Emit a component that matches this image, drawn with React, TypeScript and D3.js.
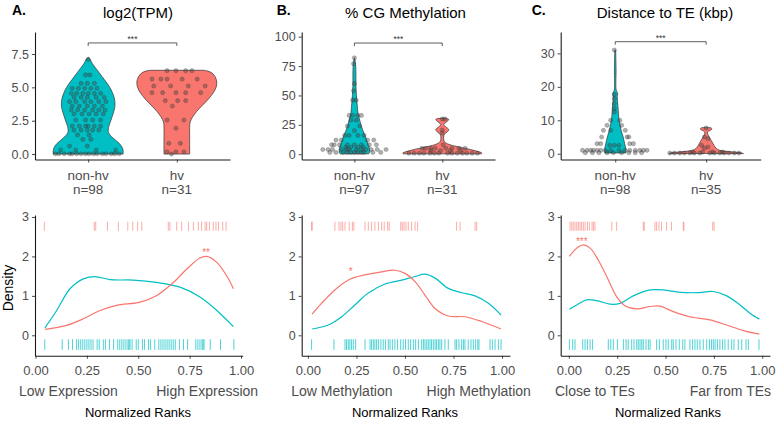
import React, { useRef, useEffect } from "react";
import * as d3 from "d3";

// groups + labels
const groups = ["non-hv", "hv"];
const panelLetters = ["A.", "B.", "C."];
const panelTitles = ["log2(TPM)", "% CG Methylation", "Distance to TE (kbp)"];
const groupCounts = [[98, 31], [97, 31], [98, 35]];
const tpmTicks = [0, 2.5, 5, 7.5];
const methTicks = [0, 25, 50, 75, 100];
const teTicks = [0, 10, 20, 30];
const rankTicks = [0, 0.25, 0.5, 0.75, 1];
const densityTicks = [0, 1, 2, 3];
const rankEndLabels = [
  ["Low Expression", "High Expression"],
  ["Low Methylation", "High Methylation"],
  ["Close to TEs", "Far from TEs"],
];
const rankEndAt = [[0.16, 0.835], [0.175, 0.88], [0.135, 0.835]];
const violinStars = ["***", "***", "***"];
const densityStars = ["**", "*", "***"];
const densityStarAt = [[0.83, 2.16], [0.22, 1.67], [0.067, 2.44]];

// violin outlines: [value, half width in category units]
const tpmNonHvViolin = [[7.25, 0], [7.1, 0.022], [6.8, 0.045], [6.4, 0.09], [6.0, 0.135], [5.6, 0.18], [5.2, 0.225], [4.8, 0.26], [4.4, 0.285], [4.0, 0.3], [3.5, 0.3], [3.0, 0.28], [2.5, 0.255], [2.0, 0.23], [1.6, 0.23], [1.2, 0.28], [0.8, 0.35], [0.4, 0.39], [0.1, 0.395], [0.0, 0.395]];
const tpmHvViolin = [[6.28, 0.3], [6.2, 0.36], [6.0, 0.41], [5.6, 0.445], [5.2, 0.45], [4.8, 0.43], [4.4, 0.39], [4.0, 0.34], [3.6, 0.28], [3.2, 0.225], [2.8, 0.18], [2.4, 0.15], [2.0, 0.145], [1.0, 0.145], [0.0, 0.145]];
const methNonHvViolin = [[82, 0], [78, 0.011], [70, 0.017], [60, 0.017], [50, 0.023], [45, 0.028], [40, 0.034], [35, 0.04], [30, 0.057], [25, 0.074], [20, 0.097], [15, 0.125], [10, 0.148], [5, 0.17], [1, 0.17], [0.3, 0.16]];
const methHvViolin = [[30.5, 0.045], [29.5, 0.074], [28, 0.057], [26, 0.023], [25, 0.017], [23, 0.045], [21, 0.074], [19, 0.057], [17, 0.023], [15.5, 0.017], [12, 0.017], [10, 0.034], [8, 0.09], [6, 0.2], [4, 0.32], [2, 0.42], [1, 0.45], [0.3, 0.445]];
const teNonHvViolin = [[31, 0.005], [25, 0.009], [19, 0.011], [18, 0.027], [17, 0.022], [15, 0.027], [13, 0.033], [11, 0.038], [9, 0.049], [7, 0.065], [5, 0.087], [3, 0.104], [1.5, 0.115], [0.2, 0.115]];
const teHvViolin = [[7.8, 0.049], [7.4, 0.065], [7.0, 0.044], [6.5, 0.016], [6.0, 0.016], [5.0, 0.033], [4.0, 0.055], [3.0, 0.076], [2.0, 0.098], [1.2, 0.13], [0.8, 0.2], [0.5, 0.3], [0.25, 0.39], [0.05, 0.41]];

// jittered points: [value, [offsets in category units]]
const tpmNonHvPoints = [
  [7.1, [0.0]], [5.93, [-0.03, 0.02]], [5.3, [-0.08, -0.01, 0.07]],
  [4.93, [-0.18, -0.11, -0.04, 0.03, 0.1]], [4.55, [-0.19, -0.13, -0.06, 0.0, 0.07, 0.14]],
  [4.25, [-0.16, -0.08, -0.01, 0.09, 0.18]], [3.93, [-0.21, -0.14, -0.04, 0.03, 0.12, 0.2]],
  [3.6, [-0.18, -0.1, -0.01, 0.07, 0.16]], [3.3, [-0.19, -0.12, -0.04, 0.05, 0.12, 0.19]],
  [3.0, [-0.16, -0.07, 0.01, 0.09, 0.17]], [2.55, [-0.14, -0.03, 0.05, 0.14]],
  [2.1, [-0.18, -0.1, -0.03, 0.0, 0.07, 0.14]], [1.8, [-0.16, -0.08, -0.01, 0.05, 0.12]],
  [1.43, [-0.12, 0.01]], [1.1, [-0.06, 0.03]], [0.6, [-0.21, -0.01]], [0.3, [-0.31, -0.14, 0.09, 0.31]],
  [0.02, [-0.37, -0.33, -0.27, -0.21, -0.18, -0.13, -0.08, -0.03, 0.01, 0.06, 0.1, 0.16, 0.2, 0.26, 0.3, 0.35]],
];
const tpmHvPoints = [
  [6.25, [-0.11, -0.01, 0.1, 0.17]], [5.62, [-0.28, -0.18, -0.11, 0.06, 0.23]], [5.1, [-0.26, -0.07, 0.13, 0.32]],
  [4.6, [-0.28, -0.16, -0.01, 0.1, 0.27]], [4.0, [-0.13, 0.01, 0.1]], [3.6, [-0.05]], [2.55, [-0.11, 0.08]],
  [1.93, [-0.01]], [0.8, [-0.09, 0.04]], [0.17, [-0.11, -0.01, 0.08]], [0.0, [-0.06]],
];
const methNonHvPoints = [
  [82, [0.0]], [77, [-0.01]], [60, [0.0]], [54, [-0.01]], [46, [-0.02, 0.02]],
  [33, [-0.06, -0.02, 0.04, 0.08]], [29, [-0.04, 0.02]], [24, [-0.08, 0.06]], [20, [0.0]],
  [16, [-0.11, -0.06, 0.04, 0.11]], [12, [-0.21, -0.15, 0.15, 0.22]],
  [8, [-0.26, -0.23, -0.17, -0.08, 0.0, 0.08, 0.17, 0.25]], [6, [-0.1, -0.04, 0.04, 0.1]],
  [4, [-0.36, -0.3, -0.25, -0.15, -0.09, -0.06, 0.02, 0.08, 0.13, 0.19, 0.26, 0.36]],
  [1.5, [-0.28, -0.21, -0.13, -0.08, -0.04, 0.0, 0.04, 0.08, 0.11, 0.21, 0.3]],
];
const methHvPoints = [
  [30, [0.0, 0.03]], [20.5, [0.0]], [18, [0.0]], [8, [0.01]],
  [5, [-0.23, -0.19, -0.13, -0.08, 0.04, 0.11, 0.19, 0.26]], [3, [-0.13, -0.02, 0.09, 0.21]],
  [0.8, [-0.38, -0.32, -0.26, -0.21, -0.14, -0.09, -0.04, 0.06, 0.11, 0.17, 0.23, 0.28, 0.34, 0.4]],
];
const teNonHvPoints = [
  [31, [-0.01]], [17.7, [-0.01]], [16.5, [-0.01]], [15, [-0.01]], [13.5, [-0.01]], [12.5, [-0.01]],
  [10, [-0.05, 0.05]], [8.5, [-0.09, 0.07]], [7, [-0.13, -0.05, 0.11]], [5, [-0.15, 0.13, 0.15]],
  [3, [-0.2, -0.16, 0.16, 0.2]], [2.5, [-0.06, -0.01, 0.04]],
  [1, [-0.36, -0.31, -0.27, -0.24, -0.2, -0.16, -0.11, -0.05, 0.04, 0.11, 0.16, 0.22, 0.27, 0.31, 0.35]],
  [0.3, [-0.33, -0.25, -0.18, -0.09, -0.02, 0.07, 0.15, 0.22, 0.29]],
];
const teHvPoints = [
  [7.7, [0.0]], [5, [-0.02]], [4.5, [0.02]], [2.5, [-0.05]], [2, [0.02]], [1.7, [-0.02]],
  [0.5, [-0.15, -0.04, 0.07, 0.18]],
  [0.2, [-0.4, -0.35, -0.29, -0.24, -0.18, -0.13, -0.07, 0.04, 0.09, 0.15, 0.2, 0.25, 0.31, 0.36]],
];

// density curves over normalized ranks: [rank, density]
const tpmNonHvDensity = [[0.046, 0.19], [0.103, 0.63], [0.168, 1.18], [0.233, 1.43], [0.29, 1.49], [0.363, 1.41], [0.476, 1.4], [0.59, 1.34], [0.703, 1.22], [0.8, 0.97], [0.882, 0.63], [0.963, 0.22]];
const tpmHvDensity = [[0.046, 0.15], [0.15, 0.25], [0.233, 0.42], [0.314, 0.63], [0.395, 0.76], [0.509, 0.84], [0.59, 1.01], [0.671, 1.34], [0.736, 1.68], [0.8, 1.96], [0.833, 2.0], [0.882, 1.85], [0.93, 1.51], [0.963, 1.18]];
const methNonHvDensity = [[0.022, 0.16], [0.105, 0.26], [0.174, 0.47], [0.242, 0.77], [0.311, 1.07], [0.397, 1.3], [0.483, 1.4], [0.552, 1.49], [0.603, 1.55], [0.655, 1.45], [0.723, 1.19], [0.792, 1.08], [0.861, 1.0], [0.93, 0.81], [0.995, 0.51]];
const methHvDensity = [[0.022, 0.54], [0.07, 0.81], [0.139, 1.15], [0.216, 1.42], [0.294, 1.53], [0.38, 1.61], [0.448, 1.65], [0.5, 1.57], [0.552, 1.36], [0.603, 1.02], [0.655, 0.68], [0.723, 0.49], [0.809, 0.47], [0.895, 0.35], [0.995, 0.16]];
const teNonHvDensity = [[0.003, 0.66], [0.041, 0.77], [0.092, 0.9], [0.144, 0.88], [0.213, 0.79], [0.265, 0.81], [0.333, 1.0], [0.42, 1.15], [0.489, 1.15], [0.575, 1.09], [0.661, 1.08], [0.747, 1.11], [0.816, 1.0], [0.885, 0.77], [0.936, 0.56], [0.985, 0.41]];
const teHvDensity = [[0.003, 2.0], [0.041, 2.21], [0.072, 2.29], [0.11, 2.21], [0.152, 1.91], [0.196, 1.49], [0.247, 0.98], [0.29, 0.75], [0.351, 0.67], [0.42, 0.73], [0.471, 0.74], [0.54, 0.6], [0.626, 0.47], [0.73, 0.39], [0.816, 0.26], [0.902, 0.12], [0.985, 0.03]];

// rug ranks
const tpmNonHvRanks = [0.045, 0.13, 0.16, 0.18, 0.2, 0.21, 0.22, 0.23, 0.24, 0.25, 0.26, 0.27, 0.28, 0.3, 0.31, 0.33, 0.34, 0.36, 0.38, 0.4, 0.41, 0.42, 0.43, 0.44, 0.45, 0.455, 0.46, 0.47, 0.49, 0.5, 0.52, 0.53, 0.55, 0.56, 0.58, 0.6, 0.61, 0.62, 0.63, 0.64, 0.65, 0.66, 0.67, 0.68, 0.7, 0.72, 0.74, 0.78, 0.79, 0.8, 0.81, 0.815, 0.82, 0.85, 0.9, 0.965];
const tpmHvRanks = [0.043, 0.286, 0.293, 0.35, 0.403, 0.449, 0.473, 0.497, 0.517, 0.646, 0.654, 0.687, 0.711, 0.744, 0.768, 0.792, 0.808, 0.825, 0.833, 0.846, 0.865, 0.878, 0.89, 0.911, 0.927];
const methNonHvRanks = [0.019, 0.134, 0.191, 0.199, 0.208, 0.216, 0.225, 0.234, 0.246, 0.294, 0.32, 0.328, 0.337, 0.345, 0.354, 0.363, 0.376, 0.388, 0.4, 0.414, 0.423, 0.435, 0.448, 0.462, 0.478, 0.491, 0.503, 0.517, 0.529, 0.543, 0.555, 0.569, 0.586, 0.595, 0.603, 0.612, 0.62, 0.629, 0.637, 0.646, 0.655, 0.663, 0.672, 0.68, 0.689, 0.706, 0.723, 0.758, 0.766, 0.778, 0.792, 0.801, 0.809, 0.826, 0.84, 0.852, 0.864, 0.875, 0.881, 0.938, 0.95, 0.964, 0.981, 0.995];
const methHvRanks = [0.019, 0.022, 0.139, 0.16, 0.17, 0.179, 0.191, 0.213, 0.229, 0.237, 0.294, 0.311, 0.328, 0.345, 0.363, 0.38, 0.393, 0.411, 0.419, 0.478, 0.486, 0.495, 0.505, 0.517, 0.534, 0.552, 0.565, 0.766, 0.784, 0.861, 0.869];
const teNonHvRanks = [0.003, 0.02, 0.032, 0.072, 0.084, 0.096, 0.11, 0.123, 0.204, 0.217, 0.23, 0.251, 0.282, 0.296, 0.307, 0.325, 0.337, 0.351, 0.359, 0.368, 0.377, 0.385, 0.399, 0.411, 0.42, 0.454, 0.468, 0.488, 0.502, 0.514, 0.532, 0.54, 0.554, 0.571, 0.589, 0.6, 0.626, 0.64, 0.652, 0.664, 0.678, 0.695, 0.713, 0.727, 0.738, 0.747, 0.756, 0.768, 0.781, 0.795, 0.807, 0.824, 0.842, 0.854, 0.876, 0.894, 0.916, 0.928, 0.983];
const teHvRanks = [0.006, 0.015, 0.023, 0.032, 0.041, 0.049, 0.058, 0.066, 0.075, 0.084, 0.096, 0.106, 0.12, 0.127, 0.135, 0.222, 0.247, 0.385, 0.39, 0.445, 0.454, 0.466, 0.479, 0.505, 0.531, 0.592, 0.595, 0.744, 0.751];

const panels = [
  { ticks: tpmTicks, fmt: ".1f", violins: [tpmNonHvViolin, tpmHvViolin], points: [tpmNonHvPoints, tpmHvPoints], dens: [tpmNonHvDensity, tpmHvDensity], rugs: [tpmNonHvRanks, tpmHvRanks] },
  { ticks: methTicks, fmt: "d", violins: [methNonHvViolin, methHvViolin], points: [methNonHvPoints, methHvPoints], dens: [methNonHvDensity, methHvDensity], rugs: [methNonHvRanks, methHvRanks] },
  { ticks: teTicks, fmt: "d", violins: [teNonHvViolin, teHvViolin], points: [teNonHvPoints, teHvPoints], dens: [teNonHvDensity, teHvDensity], rugs: [teNonHvRanks, teHvRanks] },
];

// layout (pixels / axis ranges)
const layout = [
  { left: 35, topRight: 230, botRight: 242.7, yDomain: [-0.41, 9.15], bracket: 8.33, rankDomain: [-0.0024, 1.008], letterX: 12, titleX: 138, ranksX: 138 },
  { left: 301.7, topRight: 495, botRight: 510, yDomain: [-4.5, 104], bracket: 94.6, rankDomain: [-0.032, 1.041], letterX: 276.7, titleX: 405.5, ranksX: 405 },
  { left: 560.7, topRight: 760.7, botRight: 770, yDomain: [-1.73, 36.4], bracket: 33.5, rankDomain: [-0.042, 1.04], letterX: 531.7, titleX: 665, ranksX: 668 },
];

const FONT = "'Liberation Sans', Arial, Helvetica, sans-serif";
const RED = "#F8766D";
const TEAL = "#00BFC4";
const GREY = "#4d4d4d";

function styleAxis(g: any, fontSize: number) {
  g.attr("font-family", FONT).attr("font-size", fontSize);
  g.select("path.domain").attr("stroke", "#1a1a1a").attr("stroke-width", 1.1);
  g.selectAll(".tick line").attr("stroke", "#333").attr("stroke-width", 0.9);
  g.selectAll(".tick text").attr("fill", GREY);
}

function drawPanel(svg: any, i: number) {
  const P = panels[i];
  const L = layout[i];

  // headings
  svg.append("text").attr("x", L.letterX).attr("y", 15).attr("font-family", FONT)
    .attr("font-size", 14).attr("font-weight", "bold").attr("fill", "#000").text(panelLetters[i]);
  svg.append("text").attr("x", L.titleX).attr("y", 17.5).attr("text-anchor", "middle").attr("font-family", FONT)
    .attr("font-size", 15).attr("fill", "#000").text(panelTitles[i]);

  // ---- violin panel ----
  const yTop = d3.scaleLinear().domain(L.yDomain).range([159.5, 32]);
  const xCat = d3.scalePoint<string>().domain(groups).range([L.left, L.topRight]).padding(0.6);
  const step = xCat.step();
  const colors = [TEAL, RED];

  const top = svg.append("g");
  P.violins.forEach((v, k) => {
    const cx = xCat(groups[k]) as number;
    const area = d3.area<number[]>()
      .y(d => yTop(d[0]))
      .x0(d => cx - d[1] * step)
      .x1(d => cx + d[1] * step)
      .curve(d3.curveCatmullRom);
    top.append("path").attr("d", area(v as number[][])).attr("fill", colors[k])
      .attr("stroke", "#333").attr("stroke-width", 0.7);
  });
  P.points.forEach((rows, k) => {
    const cx = xCat(groups[k]) as number;
    (rows as any[]).forEach(([val, offs]) => {
      (offs as number[]).forEach(o => {
        top.append("circle").attr("cx", cx + o * step).attr("cy", yTop(val)).attr("r", 2.1)
          .attr("fill", "#444").attr("fill-opacity", 0.42)
          .attr("stroke", "#222").attr("stroke-opacity", 0.45).attr("stroke-width", 0.5);
      });
    });
  });

  // significance bracket
  const bx0 = xCat(groups[0]) as number, bx1 = xCat(groups[1]) as number, by = yTop(L.bracket);
  top.append("path").attr("d", `M${bx0},${by + 3}V${by}H${bx1}V${by + 3}`)
    .attr("fill", "none").attr("stroke", "#333").attr("stroke-width", 0.8);
  top.append("text").attr("x", (bx0 + bx1) / 2).attr("y", by - 1).attr("text-anchor", "middle")
    .attr("font-family", FONT).attr("font-size", 8.5).attr("fill", "#333").text(violinStars[i]);

  const yAx = top.append("g").attr("transform", `translate(${L.left},0)`)
    .call(d3.axisLeft(yTop).tickValues(P.ticks).tickFormat(d3.format(P.fmt)).tickSize(3).tickSizeOuter(0).tickPadding(3));
  styleAxis(yAx, 12.5);
  const xAx = top.append("g").attr("transform", `translate(0,159.5)`)
    .call(d3.axisBottom(xCat).tickSize(3).tickSizeOuter(0).tickFormat(() => ""));
  styleAxis(xAx, 13.5);
  groups.forEach((gname, k) => {
    const cx = xCat(gname) as number;
    top.append("text").attr("x", cx).attr("y", 180).attr("text-anchor", "middle").attr("font-family", FONT)
      .attr("font-size", 13.5).attr("fill", GREY).text(gname);
    top.append("text").attr("x", cx).attr("y", 193.5).attr("text-anchor", "middle").attr("font-family", FONT)
      .attr("font-size", 13.5).attr("fill", GREY).text(`n=${groupCounts[i][k]}`);
  });

  // ---- density panel ----
  const xRank = d3.scaleLinear().domain(L.rankDomain).range([L.left, L.botRight]);
  const yDen = d3.scaleLinear().domain([-0.517, 3.05]).range([355.7, 215]);
  const bot = svg.append("g");

  // rugs: non-hv along the bottom, hv along the top
  P.rugs[0].forEach(r => {
    bot.append("line").attr("x1", xRank(r)).attr("x2", xRank(r)).attr("y1", yDen(-0.1)).attr("y2", yDen(-0.37))
      .attr("stroke", TEAL).attr("stroke-opacity", 0.7).attr("stroke-width", 1);
  });
  P.rugs[1].forEach(r => {
    bot.append("line").attr("x1", xRank(r)).attr("x2", xRank(r)).attr("y1", yDen(2.65)).attr("y2", yDen(2.88))
      .attr("stroke", RED).attr("stroke-opacity", 0.6).attr("stroke-width", 1);
  });

  const line = d3.line<number[]>().x(d => xRank(d[0])).y(d => yDen(d[1])).curve(d3.curveCatmullRom);
  P.dens.forEach((d, k) => {
    bot.append("path").attr("d", line(d as number[][])).attr("fill", "none")
      .attr("stroke", colors[k]).attr("stroke-width", 1.2);
  });

  const [sx, sy] = densityStarAt[i];
  bot.append("text").attr("x", xRank(sx)).attr("y", yDen(sy) + 6).attr("text-anchor", "middle")
    .attr("font-family", FONT).attr("font-size", 10).attr("fill", RED).text(densityStars[i]);

  const dyAx = bot.append("g").attr("transform", `translate(${L.left},0)`)
    .call(d3.axisLeft(yDen).tickValues(densityTicks).tickFormat(d3.format("d")).tickSize(3).tickSizeOuter(0).tickPadding(3));
  styleAxis(dyAx, 12.5);
  const dxAx = bot.append("g").attr("transform", `translate(0,355.7)`)
    .call(d3.axisBottom(xRank).tickValues(rankTicks).tickFormat(d3.format(".2f")).tickSize(3).tickSizeOuter(0).tickPadding(7));
  styleAxis(dxAx, 13);

  rankEndLabels[i].forEach((lab, k) => {
    bot.append("text").attr("x", xRank(rankEndAt[i][k])).attr("y", 396).attr("text-anchor", "middle")
      .attr("font-family", FONT).attr("font-size", 14).attr("fill", GREY).text(lab);
  });
  bot.append("text").attr("x", L.ranksX).attr("y", 416.5).attr("text-anchor", "middle")
    .attr("font-family", FONT).attr("font-size", 13).attr("fill", "#000").text("Normalized Ranks");

  if (i === 0) {
    bot.append("text").attr("transform", "translate(13,288) rotate(-90)").attr("text-anchor", "middle")
      .attr("font-family", FONT).attr("font-size", 14).attr("fill", "#000").text("Density");
  }
}

export default function App() {
  const svgRef = useRef<SVGSVGElement>(null);

  useEffect(() => {
    if (!svgRef.current) return;
    const svg = d3.select(svgRef.current);
    svg.selectAll("*").remove();
    panels.forEach((_, i) => drawPanel(svg, i));
  }, []);

  return (
    <div style={{ position: "absolute", left: 0, top: 0, background: "#fff" }}>
      <svg ref={svgRef} width={778} height={427} style={{ display: "block" }} />
    </div>
  );
}
